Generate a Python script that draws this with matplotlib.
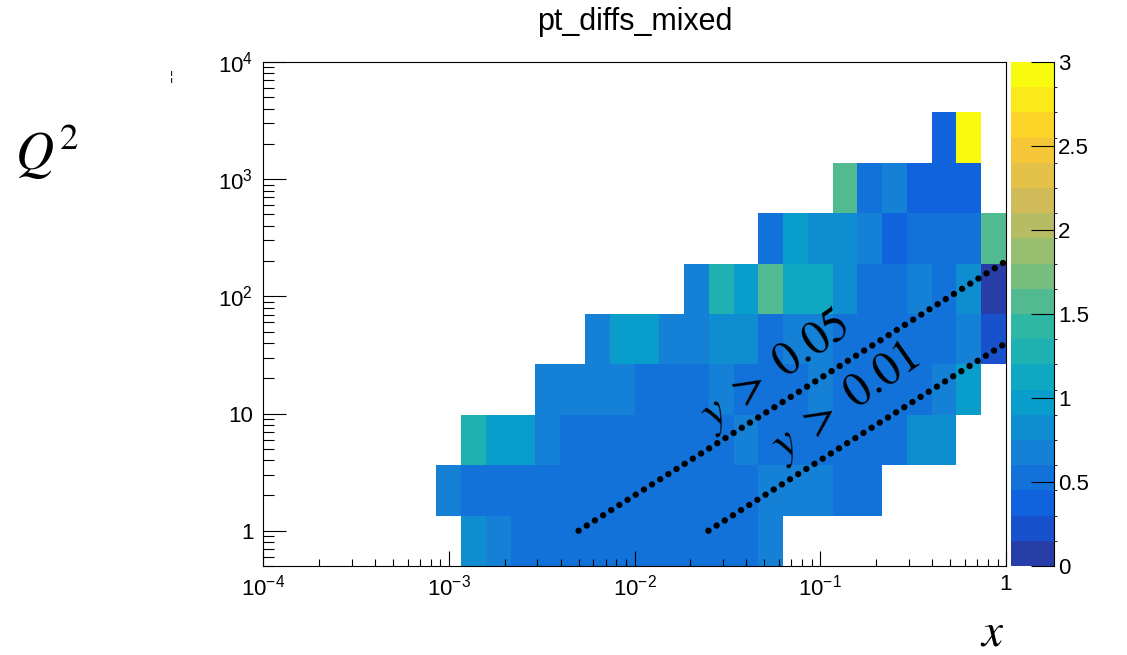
import numpy as np
import matplotlib
matplotlib.use('Agg')
import matplotlib.pyplot as plt
from matplotlib.colors import LinearSegmentedColormap, ListedColormap, BoundaryNorm
from matplotlib.ticker import FixedLocator, FixedFormatter, LogLocator, NullFormatter

plt.rcParams['font.family'] = ['Liberation Sans', 'DejaVu Sans']
plt.rcParams['mathtext.fontset'] = 'stix'

# histogram binning (30 log bins in x, 10 log bins in Q^2)
x_lo, x_hi, x_nbins = 1e-4, 1.0, 30
q2_lo, q2_hi, q2_nbins = 0.5, 1e4, 10

# cell contents, one list per Q^2 row (bottom to top), starting at x bin row_start
row_start = [8, 7, 8, 11, 13, 17, 20, 23, 27]
row0 = [0.82, 0.67, 0.52, 0.52, 0.52, 0.52, 0.52, 0.52, 0.52, 0.52, 0.52, 0.52, 0.67]
row1 = [0.67, 0.52, 0.52, 0.52, 0.52, 0.52, 0.52, 0.52, 0.52, 0.52, 0.52, 0.52, 0.52,
        0.67, 0.67, 0.67, 0.52, 0.52]
row2 = [1.27, 0.97, 0.97, 0.67, 0.52, 0.52, 0.52, 0.52, 0.52, 0.52, 0.52, 0.67,
        0.52, 0.52, 0.52, 0.52, 0.52, 0.52, 0.82, 0.82]
row3 = [0.67, 0.67, 0.67, 0.67, 0.52, 0.52, 0.52, 0.67, 0.52, 0.52, 0.52, 0.67,
        0.52, 0.52, 0.52, 0.52, 0.67, 0.97]
row4 = [0.67, 0.97, 0.97, 0.67, 0.67, 0.82, 0.82, 0.52, 0.67, 0.67, 0.52, 0.52,
        0.52, 0.52, 0.52, 0.67, 0.22]
row5 = [0.67, 1.27, 0.97, 1.57, 1.12, 1.12, 0.82, 0.52, 0.52, 0.67, 0.52, 0.82, 0.08]
row6 = [0.52, 0.97, 0.82, 0.82, 0.67, 0.37, 0.52, 0.52, 0.52, 1.57]
row7 = [1.57, 0.52, 0.67, 0.37, 0.37, 0.37]
row8 = [0.37, 2.95]
row_values = [row0, row1, row2, row3, row4, row5, row6, row7, row8]

# kinematic limits Q^2 = s x y drawn as dotted lines
line_005_x = [0.005, 1.0]
line_005_q2 = [1.0, 200.0]
line_001_x = [0.025, 1.0]
line_001_q2 = [1.0, 40.0]

x_ticks = [1e-4, 1e-3, 1e-2, 1e-1, 1]
x_ticklabels = [r'$\mathregular{10^{-4}}$', r'$\mathregular{10^{-3}}$',
                r'$\mathregular{10^{-2}}$', r'$\mathregular{10^{-1}}$', '1']
y_ticks = [1, 10, 100, 1000, 10000]
y_ticklabels = ['1', '10', r'$\mathregular{10^{2}}$', r'$\mathregular{10^{3}}$',
                r'$\mathregular{10^{4}}$']
z_ticks = [0, 0.5, 1, 1.5, 2, 2.5, 3]
z_ticklabels = ['0', '0.5', '1', '1.5', '2', '2.5', '3']

# ROOT kBird palette, 20 contours
bird_stops = [0.0, 0.125, 0.25, 0.375, 0.5, 0.625, 0.75, 0.875, 1.0]
bird_r = [0.2082, 0.0592, 0.0780, 0.0232, 0.1802, 0.5301, 0.8186, 0.9956, 0.9764]
bird_g = [0.1664, 0.3599, 0.5041, 0.6419, 0.7178, 0.7492, 0.7328, 0.7862, 0.9832]
bird_b = [0.5293, 0.8684, 0.8385, 0.7914, 0.6425, 0.4662, 0.3499, 0.1968, 0.0539]
bird = LinearSegmentedColormap.from_list(
    'bird', list(zip(bird_stops, zip(bird_r, bird_g, bird_b))), N=255)
ncont = 20
cmap = ListedColormap([bird(min(((i + 0.99) * 255 / ncont) / 254, 1.0)) for i in range(ncont)])
norm = BoundaryNorm(np.linspace(0, 3, ncont + 1), ncont)

x_edges = np.logspace(np.log10(x_lo), np.log10(x_hi), x_nbins + 1)
q2_edges = np.logspace(np.log10(q2_lo), np.log10(q2_hi), q2_nbins + 1)
z = np.full((q2_nbins, x_nbins), np.nan)
for r, (start, vals) in enumerate(zip(row_start, row_values)):
    z[r, start:start + len(vals)] = vals

W, H = 1127, 655
fig = plt.figure(figsize=(W / 100, H / 100), dpi=100)
ax = fig.add_axes([263 / W, 1 - 566 / H, (1006 - 263) / W, (566 - 62) / H])
cax = fig.add_axes([1011 / W, 1 - 566 / H, 43 / W, (566 - 62) / H])

mesh = ax.pcolormesh(x_edges, q2_edges, np.ma.masked_invalid(z), cmap=cmap, norm=norm)
ax.set_xscale('log')
ax.set_yscale('log')
ax.set_xlim(x_lo, x_hi)
ax.set_ylim(q2_lo, q2_hi)

ax.xaxis.set_major_locator(FixedLocator(x_ticks))
ax.xaxis.set_major_formatter(FixedFormatter(x_ticklabels))
ax.yaxis.set_major_locator(FixedLocator(y_ticks))
ax.yaxis.set_major_formatter(FixedFormatter(y_ticklabels))
ax.xaxis.set_minor_locator(LogLocator(base=10, subs=range(2, 10), numticks=20))
ax.yaxis.set_minor_locator(LogLocator(base=10, subs=range(2, 10), numticks=20))
ax.xaxis.set_minor_formatter(NullFormatter())
ax.yaxis.set_minor_formatter(NullFormatter())
ax.tick_params(axis='x', which='major', direction='in', length=10.8, width=0.8,
               labelsize=16, pad=6)
ax.tick_params(axis='x', which='minor', direction='in', length=5.4, width=0.8)
ax.tick_params(axis='y', which='major', direction='in', length=16.5, width=0.8,
               labelsize=16, pad=7)
ax.tick_params(axis='y', which='minor', direction='in', length=8, width=0.8)
for sp in ax.spines.values():
    sp.set_linewidth(0.8)

dots = dict(color='black', linewidth=4.6, linestyle=(0, (0.01, 1.5)),
            dash_capstyle='round', solid_capstyle='round', clip_on=False)
ax.plot(line_005_x, line_005_q2, **dots)
ax.plot(line_001_x, line_001_q2, **dots)

ax.text(0.057, 23.0, r'$y\ >\ 0.05$', fontsize=34, rotation=35,
        ha='center', va='center', rotation_mode='anchor')
ax.text(0.136, 12.3, r'$y\ >\ 0.01$', fontsize=34, rotation=35,
        ha='center', va='center', rotation_mode='anchor')

cbar = fig.colorbar(mesh, cax=cax, ticks=z_ticks)
cbar.ax.set_yticklabels(z_ticklabels)
cbar.outline.set_visible(False)
cax.tick_params(direction='in', length=16.5, width=0.8, labelsize=16, pad=3)
cax.plot([1, 1], [0, 1], transform=cax.transAxes, color='black', lw=0.8, clip_on=False)

fig.text(634.5 / W, 1 - 30 / H, 'pt_diffs_mixed', fontsize=22, ha='center', va='baseline')
fig.text(15 / W, 1 - 170 / H, r'$Q^2$', fontsize=38, ha='left', va='baseline')
fig.text(980 / W, 1 - 646 / H, r'$x$', fontsize=34, ha='left', va='baseline')
fig.text(1038 / W, 1 + 12 / H, r'$y$', fontsize=34, ha='left', va='baseline')
fig.text(171 / W, 1 - 77 / H, '\u00a6', fontsize=9, ha='center', va='center')

fig.savefig('out.png', dpi=100)
